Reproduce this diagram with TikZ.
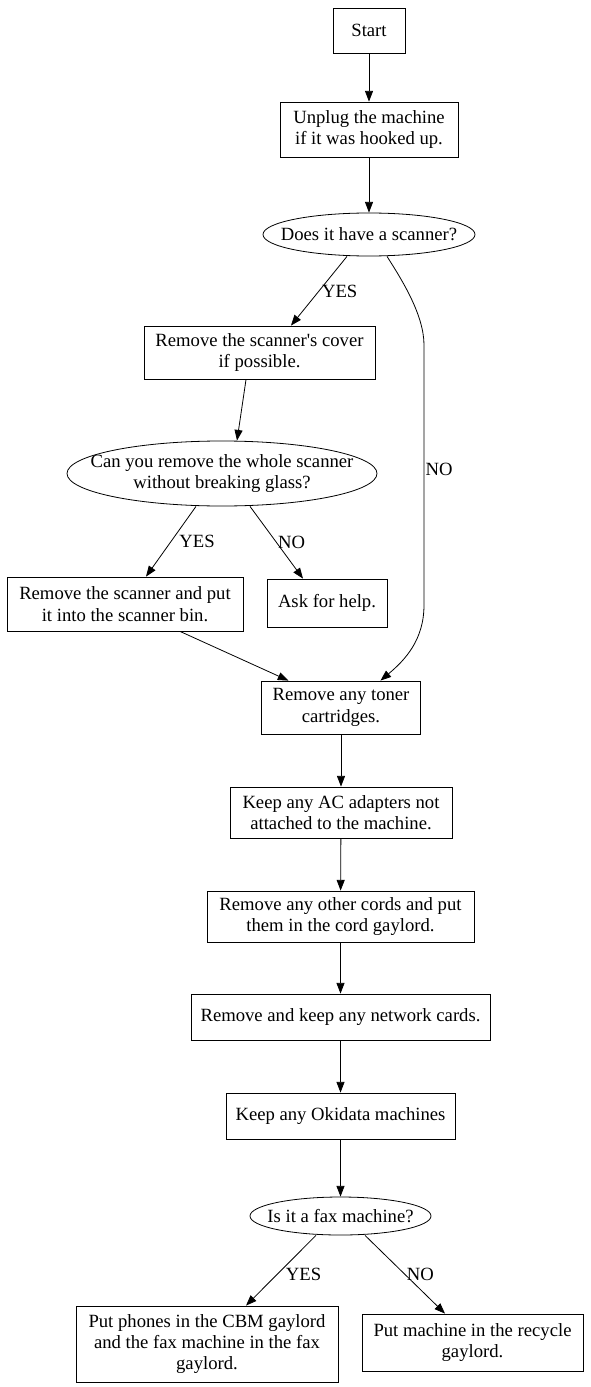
\documentclass[tikz,border=0pt]{standalone}
\usepackage{fontspec}
\setmainfont{Liberation Serif}
\usetikzlibrary{shapes.geometric,arrows.meta}
\begin{document}
\begin{tikzpicture}[x=0.75pt,y=-0.75pt,
  every node/.style={font=\fontsize{14pt}{16pt}\selectfont},
  boxnode/.style={draw,rectangle,align=center,inner sep=0pt,line width=0.6pt},
  decnode/.style={draw,ellipse,inner sep=0pt,line width=0.6pt},
  lbl/.style={inner sep=0pt,align=center},
  conn/.style={line width=0.6pt,-{Triangle[length=8pt,width=6pt]}}]
\useasboundingbox (0,0) rectangle (591,1387);
\node[boxnode,minimum width=54pt,minimum height=33.75pt] (start) at (369,30.5) {Start};
\node[boxnode,minimum width=133.5pt,minimum height=41.25pt] (unplug) at (369,129.5) {Unplug the machine\\if it was hooked up.};
\node[decnode,minimum width=159pt,minimum height=32.25pt,label={[lbl]center:Does it have a scanner?}] (scan) at (369,234.5) {};
\node[boxnode,minimum width=173.25pt,minimum height=39.75pt] (cover) at (259.5,352.5) {Remove the scanner\textquotesingle s cover\\if possible.};
\node[decnode,minimum width=232.5pt,minimum height=48.75pt,label={[lbl]center:Can you remove the whole scanner\\without breaking glass?}] (whole) at (222,473.5) {};
\node[boxnode,minimum width=177pt,minimum height=40.5pt] (rmscan) at (125,604) {Remove the scanner and put\\it into the scanner bin.};
\node[boxnode,minimum width=90pt,minimum height=36pt] (help) at (327,603) {Ask for help.};
\node[boxnode,minimum width=119.25pt,minimum height=39.75pt] (toner) at (341,707.5) {Remove any toner\\cartridges.};
\node[boxnode,minimum width=166.5pt,minimum height=38.25pt] (ac) at (341,812.5) {Keep any AC adapters not\\attached to the machine.};
\node[boxnode,minimum width=200.25pt,minimum height=38.25pt] (cords) at (340.5,916.5) {Remove any other cords and put\\them in the cord gaylord.};
\node[boxnode,minimum width=224.25pt,minimum height=34.5pt] (net) at (340.5,1017) {Remove and keep any network cards.};
\node[boxnode,minimum width=171.75pt,minimum height=34.5pt] (oki) at (340.5,1116) {Keep any Okidata machines};
\node[decnode,minimum width=135.75pt,minimum height=28.5pt,label={[lbl]center:Is it a fax machine?}] (fax) at (340.5,1216) {};
\node[boxnode,minimum width=196.5pt,minimum height=57pt] (phones) at (207,1344) {Put phones in the CBM gaylord\\and the fax machine in the fax\\gaylord.};
\node[boxnode,minimum width=165.75pt,minimum height=42.75pt] (recycle) at (472.5,1342.5) {Put machine in the recycle\\gaylord.};
\coordinate (n1) at (424,345);
\coordinate (n2) at (424,605);
\draw[conn] (start) -- (unplug);
\draw[conn] (unplug) -- (scan);
\draw[conn] ([xshift=-16.5pt]scan.south) -- node[lbl,pos=0.5,right=2pt] {YES} ([xshift=23.6pt]cover.north);
\draw[conn] ([xshift=13.5pt]scan.south) .. controls (402,280) and (424,315) .. (n1) -- node[lbl,pos=0.48,right=1pt] {NO} (n2) .. controls (424,640) and (405,660) .. ([xshift=29.6pt]toner.north);
\draw[conn] ([xshift=-10.1pt]cover.south) -- ([xshift=11.25pt]whole.north);
\draw[conn] ([xshift=-19.5pt]whole.south) -- node[lbl,pos=0.5,right=6pt] {YES} ([xshift=15.75pt]rmscan.north);
\draw[conn] ([xshift=21pt]whole.south) -- node[lbl,pos=0.5,right=1pt] {NO} ([xshift=-18pt]help.north);
\draw[conn] ([xshift=41.25pt]rmscan.south) -- ([xshift=-39.4pt]toner.north);
\draw[conn] (toner) -- (ac);
\draw[conn] (ac) -- (cords);
\draw[conn] (cords) -- (net);
\draw[conn] (net) -- (oki);
\draw[conn] (oki) -- (fax);
\draw[conn] ([xshift=-18.4pt]fax.south) -- node[lbl,pos=0.55,right=6pt] {YES} ([xshift=29.25pt]phones.north);
\draw[conn] ([xshift=18.4pt]fax.south) -- node[lbl,pos=0.5,right=1pt] {NO} ([xshift=-20.6pt]recycle.north);
\end{tikzpicture}
\end{document}
